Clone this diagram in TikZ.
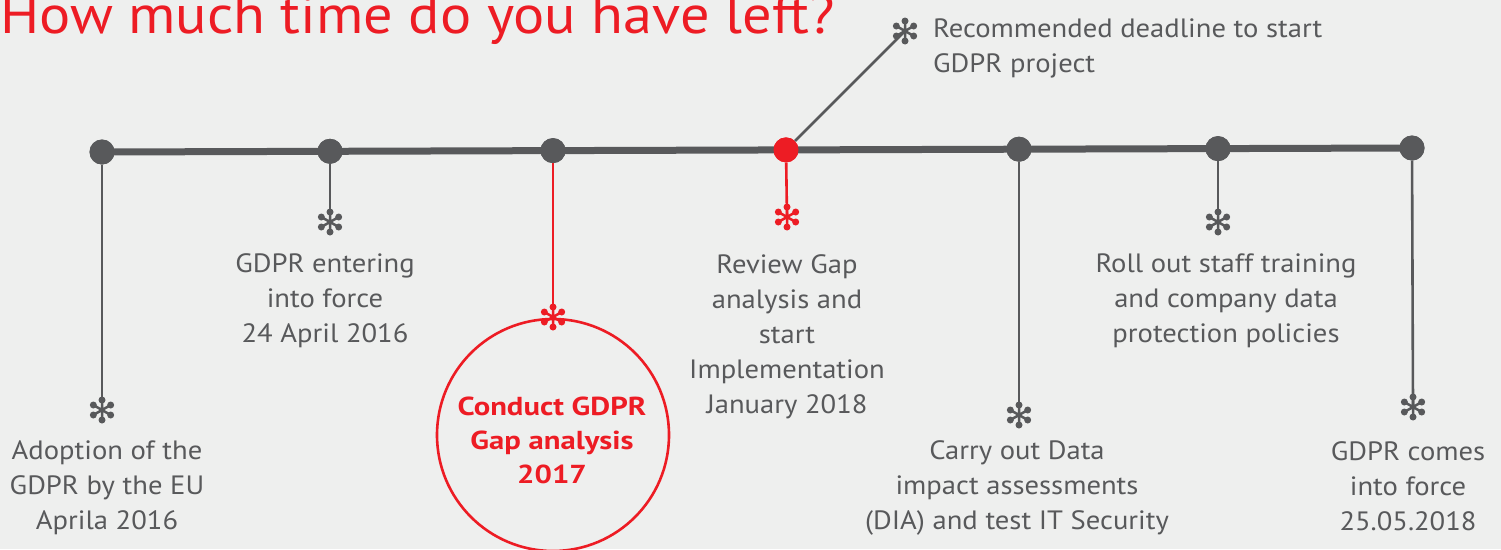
\documentclass[tikz,border=0pt]{standalone}
\usepackage{fontspec}
\setmainfont{PT Sans}[FakeStretch=1.08,BoldFeatures={FakeStretch=1.18}]
\definecolor{bg}{RGB}{238,239,238}
\definecolor{dk}{RGB}{88,89,91}
\definecolor{rd}{RGB}{237,28,36}
\tikzset{
 flake/.pic={\draw[line width=2.5pt] (0pt,-10pt)--(0pt,10pt) (-8.66pt,-5pt)--(8.66pt,5pt) (-8.66pt,5pt)--(8.66pt,-5pt);
   \foreach \a in {30,90,...,330} \fill (\a:10pt) circle (3.5pt);},
 dot/.style={circle,fill=dk,minimum size=25pt,inner sep=0pt},
 reddot/.style={dot,fill=rd},
 stem/.style={line width=2.6pt,draw=dk},
 redstem/.style={line width=2.6pt,draw=rd},
 lbl/.style={font=\fontsize{26.5}{35}\selectfont,text=dk,align=center,inner sep=0pt},
 redlbl/.style={font=\fontsize{26}{34}\selectfont\bfseries,text=rd,align=center,inner sep=0pt},
}
\begin{document}
\begin{tikzpicture}[x=1pt,y=-1pt]
\useasboundingbox (0,0) rectangle (1501,549);
\clip (0,0) rectangle (1501,549);
\fill[bg] (0,0) rectangle (1501,549);

% title
\node[anchor=base west,font=\fontsize{54}{60}\selectfont,text=rd,inner sep=0pt] (title) at (0,33) {How much time do you have left?};

% timeline dots
\node[dot] (p1) at (102,152) {};
\node[dot] (p2) at (330,151.3) {};
\node[dot] (p3) at (553,150.6) {};
\node[reddot] (p4) at (786,149.9) {};
\node[dot] (p5) at (1019,149.2) {};
\node[dot] (p6) at (1218,148.6) {};
\node[dot] (p7) at (1412,148) {};

% star positions
\coordinate (s1) at (102,410);
\coordinate (s2) at (330,222);
\coordinate (s3) at (553,317);
\coordinate (s4) at (787,217);
\coordinate (s5) at (1019,415);
\coordinate (s6) at (1218,222);
\coordinate (s7) at (1413,407);
\coordinate (s8) at (905,31);

% main line
\draw[line width=7pt,dk] (p1.center) -- (p7.center);
\foreach \p in {p1,p2,p3,p5,p6,p7} \fill[dk] (\p) circle (12.5pt);
\fill[rd] (p4) circle (12.5pt);

% stems
\draw[stem] (p1) -- (s1);
\draw[stem] (p2) -- (s2);
\draw[redstem] (p3) -- (s3);
\draw[redstem] (p4) -- (s4);
\draw[stem] (p5) -- (s5);
\draw[stem] (p6) -- (s6);
\draw[stem] (p7) -- (s7);
\draw[stem] (p4) -- (s8);

% big circle
\node[circle,draw=rd,line width=2.6pt,minimum size=232pt,inner sep=0pt] (ring) at (553,435) {};

% flakes
\pic[dk] at (s1) {flake};
\pic[dk] at (s2) {flake};
\pic[rd] at (s3) {flake};
\pic[rd] at (s4) {flake};
\pic[dk] at (s5) {flake};
\pic[dk] at (s6) {flake};
\pic[dk] at (s7) {flake};
\pic[dk] at (s8) {flake};

% labels
\node[lbl] (t1) at (107,488) {Adoption of the\\GDPR by the EU\\Aprila 2016};
\node[lbl] (t2) at (325,301) {GDPR entering\\into force\\24 April 2016};
\node[redlbl] (t3) at (552,440) {Conduct GDPR\\Gap analysis\\2017};
\node[lbl] (t4) at (787,337) {Review Gap\\analysis and\\start\\Implementation\\January 2018};
\node[lbl] (t5) at (1017,488) {Carry out Data\\impact assessments\\(DIA) and test IT Security};
\node[lbl] (t6) at (1226,301) {Roll out staff training\\and company data\\protection policies};
\node[lbl] (t7) at (1408,486) {GDPR comes\\into force\\25.05.2018};
\node[lbl,anchor=west,align=left] (t8) at (933,48) {Recommended deadline to start\\GDPR project};
\end{tikzpicture}
\end{document}
